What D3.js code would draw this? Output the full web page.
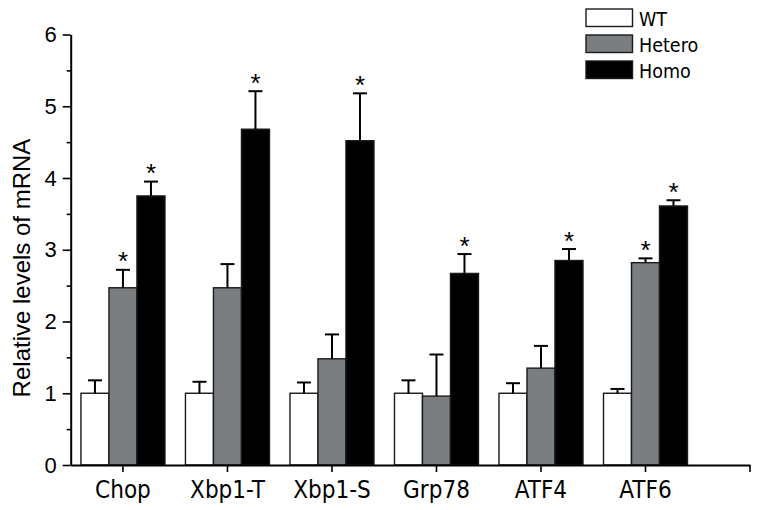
<!DOCTYPE html>
<html><head><meta charset="utf-8">
<script src="https://cdn.jsdelivr.net/npm/d3@7"></script>
<style>body{margin:0;background:#fff}svg{display:block}</style>
</head><body>
<svg id="chart" width="759" height="510"></svg>
<script>
const categories = ["Chop","Xbp1-T","Xbp1-S","Grp78","ATF4","ATF6"];
const seriesNames = ["WT","Hetero","Homo"];
const wtValues     = [1.00, 1.00, 1.00, 1.00, 1.00, 1.00];
const wtErrors     = [0.18, 0.16, 0.15, 0.18, 0.14, 0.06];
const heteroValues = [2.47, 2.47, 1.48, 0.96, 1.35, 2.82];
const heteroErrors = [0.25, 0.33, 0.34, 0.58, 0.31, 0.06];
const homoValues   = [3.75, 4.68, 4.52, 2.67, 2.85, 3.61];
const homoErrors   = [0.20, 0.53, 0.66, 0.27, 0.16, 0.08];
const heteroSig    = [true, false, false, false, false, true];
const homoSig      = [true, true, true, true, true, true];
const yTicks = [0,1,2,3,4,5,6];
const yMinorTicks = [0.5,1.5,2.5,3.5,4.5,5.5];

const fills = ["#ffffff","#7a7e80","#000000"];
const series = [
  {name: seriesNames[0], values: wtValues, errors: wtErrors, sig: null},
  {name: seriesNames[1], values: heteroValues, errors: heteroErrors, sig: heteroSig},
  {name: seriesNames[2], values: homoValues, errors: homoErrors, sig: homoSig}
];

const svg = d3.select("#chart");
const x0 = 70.7, x1 = 750, yBottom = 465, yTop = 34.5;
const x = d3.scaleBand().domain(categories).range([x0, x1]).paddingInner(0).paddingOuter(0.25).align(0);
const y = d3.scaleLinear().domain([0, 6]).range([yBottom, yTop]);
const sub = d3.scaleBand().domain(seriesNames).range([-42, 42]);

const g = svg.append("g");
series.forEach((s, si) => {
  const grp = g.append("g");
  const cx = c => x(c) + x.bandwidth()/2 + sub(s.name) + sub.bandwidth()/2;
  grp.selectAll("rect").data(categories).join("rect")
    .attr("x", c => x(c) + x.bandwidth()/2 + sub(s.name))
    .attr("width", sub.bandwidth())
    .attr("y", (c,i) => y(s.values[i]))
    .attr("height", (c,i) => y(0) - y(s.values[i]))
    .attr("fill", fills[si])
    .attr("stroke", "#1a1a1a").attr("stroke-width", 1.4);
  grp.selectAll("line.err").data(categories).join("line").attr("class","err")
    .attr("x1", cx).attr("x2", cx)
    .attr("y1", (c,i) => y(s.values[i]))
    .attr("y2", (c,i) => y(s.values[i] + s.errors[i]))
    .attr("stroke", "#000").attr("stroke-width", 2);
  grp.selectAll("line.cap").data(categories).join("line").attr("class","cap")
    .attr("x1", c => cx(c) - 7).attr("x2", c => cx(c) + 7)
    .attr("y1", (c,i) => y(s.values[i] + s.errors[i]))
    .attr("y2", (c,i) => y(s.values[i] + s.errors[i]))
    .attr("stroke", "#000").attr("stroke-width", 2);
  if (s.sig) {
    grp.selectAll("text.star").data(categories.filter((c,i) => s.sig[i])).join("text").attr("class","star")
      .attr("x", cx)
      .attr("y", c => { const i = categories.indexOf(c); return y(s.values[i] + s.errors[i]) + 0.5; })
      .attr("text-anchor", "middle")
      .attr("font-family", "'Liberation Sans', Arial, sans-serif")
      .attr("font-size", 26).attr("fill", "#000")
      .text("*");
  }
});

// y axis
const yAxis = g.append("g").attr("transform", `translate(${x0},0)`)
  .call(d3.axisLeft(y).tickValues(yTicks).tickSize(8).tickSizeOuter(0).tickPadding(6).tickFormat(d3.format("d")));
yAxis.selectAll("text").attr("font-family", "'Liberation Sans', Arial, sans-serif").attr("font-size", 22).attr("fill", "#000");
yAxis.select(".domain").attr("stroke-width", 2);
yAxis.selectAll(".tick line").attr("stroke-width", 1.6);
const yMinor = g.append("g").attr("transform", `translate(${x0},0)`)
  .call(d3.axisLeft(y).tickValues(yMinorTicks).tickSize(4).tickSizeOuter(0).tickFormat(""));
yMinor.select(".domain").remove();
yMinor.selectAll(".tick line").attr("stroke-width", 1.6);

// x axis
const xAxis = g.append("g").attr("transform", `translate(0,${yBottom})`)
  .call(d3.axisBottom(x).tickSize(7).tickSizeOuter(0).tickPadding(9));
xAxis.select(".domain").attr("stroke-width", 2);
xAxis.selectAll(".tick line").attr("stroke-width", 1.6);
xAxis.selectAll("text").attr("font-family", "'DejaVu Sans Condensed', 'DejaVu Sans', sans-serif")
  .attr("font-stretch", "condensed").attr("font-size", 24).attr("fill", "#000");
xAxis.append("line").attr("x1", x1).attr("x2", x1).attr("y1", 0).attr("y2", 7)
  .attr("stroke", "#000").attr("stroke-width", 1.6);

// y label
svg.append("text")
  .attr("transform", `translate(30,268) rotate(-90)`)
  .attr("text-anchor", "middle")
  .attr("font-family", "'Liberation Sans', Arial, sans-serif").attr("font-size", 24).attr("fill", "#000")
  .text("Relative levels of mRNA");

// legend
const legend = svg.append("g").attr("transform", "translate(586,9)");
series.forEach((s, si) => {
  const row = legend.append("g").attr("transform", `translate(0,${si*26})`);
  row.append("rect").attr("width", 46.5).attr("height", 17.5)
    .attr("fill", fills[si]).attr("stroke", "#1a1a1a").attr("stroke-width", 1.4);
  row.append("text").attr("x", 53).attr("y", 17)
    .attr("font-family", "'DejaVu Sans Condensed', 'DejaVu Sans', sans-serif").attr("font-stretch", "condensed")
    .attr("font-size", 19.5).attr("fill", "#000").text(s.name);
});
</script>
</body></html>
